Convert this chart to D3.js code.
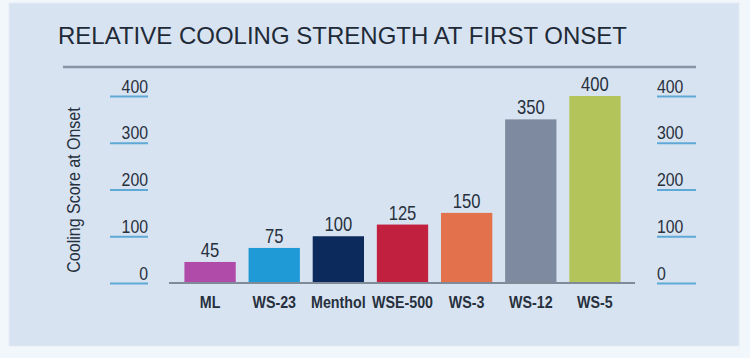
<!DOCTYPE html>
<html>
<head>
<meta charset="utf-8">
<script src="https://cdn.jsdelivr.net/npm/d3@7"></script>
<style>
  html, body { margin: 0; padding: 0; background: #f2f7fb; }
  svg { display: block; }
  text { font-family: "Liberation Sans", Arial, "Helvetica", sans-serif; }
</style>
</head>
<body>
<svg id="chart" width="750" height="358"></svg>
<script>
const categories = ["ML", "WS-23", "Menthol", "WSE-500", "WS-3", "WS-12", "WS-5"];
const values = [45, 75, 100, 125, 150, 350, 400];
const colors = ["#b14ba9", "#1f9ad6", "#0c2a5c", "#c1213f", "#e3714b", "#7e8aa0", "#b3c45b"];
const tickValues = [0, 100, 200, 300, 400];
const title = "RELATIVE COOLING STRENGTH AT FIRST ONSET";
const yTitle = "Cooling Score at Onset";

const svg = d3.select("#chart");
const ink = "#27303d";

// panel
svg.append("rect").attr("x", 9).attr("y", 3).attr("width", 730).attr("height", 343)
  .attr("fill", "#d8e3f1").attr("stroke", "#e3ebf5").attr("stroke-width", 1);

// title
svg.append("text").attr("x", 58).attr("y", 44).text(title)
  .attr("font-size", 24).attr("fill", "#1f2a38").attr("textLength", 569).attr("lengthAdjust", "spacingAndGlyphs");

// title rule
svg.append("line").attr("x1", 63).attr("x2", 696).attr("y1", 67).attr("y2", 67)
  .attr("stroke", "#8794a6").attr("stroke-width", 2.5);

const x = d3.scaleBand().domain(categories).range([178, 627]).paddingInner(0.2).paddingOuter(0.1);
const y = d3.scaleLinear().domain([0, 400]).range([283, 96]);

// left axis
const leftAxis = d3.axisLeft(y).tickValues(tickValues).tickSize(0).tickPadding(0);
const gl = svg.append("g").attr("transform", "translate(148,0)").call(leftAxis);
gl.select(".domain").remove();
gl.selectAll(".tick text").attr("font-size", 18).attr("fill", ink).attr("dy", null).attr("y", -4)
  .attr("text-anchor", "end").attr("x", 0).attr("font-family", null).attr("transform", "scale(0.88,1)");
gl.selectAll(".tick").append("line").attr("x1", -38).attr("x2", 0).attr("y1", 0).attr("y2", 0)
  .attr("stroke", "#5fa9d6").attr("stroke-width", 2);

// right axis
const rightAxis = d3.axisRight(y).tickValues(tickValues).tickSize(0).tickPadding(0);
const gr = svg.append("g").attr("transform", "translate(657,0)").call(rightAxis);
gr.select(".domain").remove();
gr.selectAll(".tick text").attr("font-size", 18).attr("fill", ink).attr("dy", null).attr("y", -4)
  .attr("text-anchor", "start").attr("x", 0).attr("font-family", null).attr("transform", "scale(0.88,1)");
gr.selectAll(".tick").append("line").attr("x1", 0).attr("x2", 39).attr("y1", 0).attr("y2", 0)
  .attr("stroke", "#5fa9d6").attr("stroke-width", 2);

// y title
svg.append("text").attr("transform", "translate(80,190) rotate(-90) scale(0.89,1)").attr("text-anchor", "middle")
  .attr("font-size", 18).attr("fill", ink).text(yTitle);

// bars
svg.append("g").selectAll("rect").data(categories).join("rect")
  .attr("x", d => x(d)).attr("width", x.bandwidth())
  .attr("y", (d, i) => y(values[i])).attr("height", (d, i) => y(0) - y(values[i]))
  .attr("fill", (d, i) => colors[i]);

// baseline
svg.append("line").attr("x1", 169).attr("x2", 635).attr("y1", y(0)).attr("y2", y(0))
  .attr("stroke", "#7f8b99").attr("stroke-width", 2);

// value labels
svg.append("g").selectAll("text").data(categories).join("text")
  .attr("transform", (d, i) => `translate(${x(d) + x.bandwidth() / 2},${y(values[i]) - 5}) scale(0.83,1)`)
  .attr("text-anchor", "middle").attr("font-size", 20).attr("fill", ink)
  .text((d, i) => values[i]);

// category axis labels
const bottomAxis = d3.axisBottom(x).tickSize(0).tickPadding(0);
const gb = svg.append("g").attr("transform", "translate(0,308)").call(bottomAxis);
gb.select(".domain").remove();
gb.selectAll(".tick text").attr("font-size", 17).attr("font-weight", "bold").attr("fill", ink)
  .attr("dy", null).attr("y", 0).attr("font-family", null).attr("transform", "scale(0.84,1)");
</script>
</body>
</html>
